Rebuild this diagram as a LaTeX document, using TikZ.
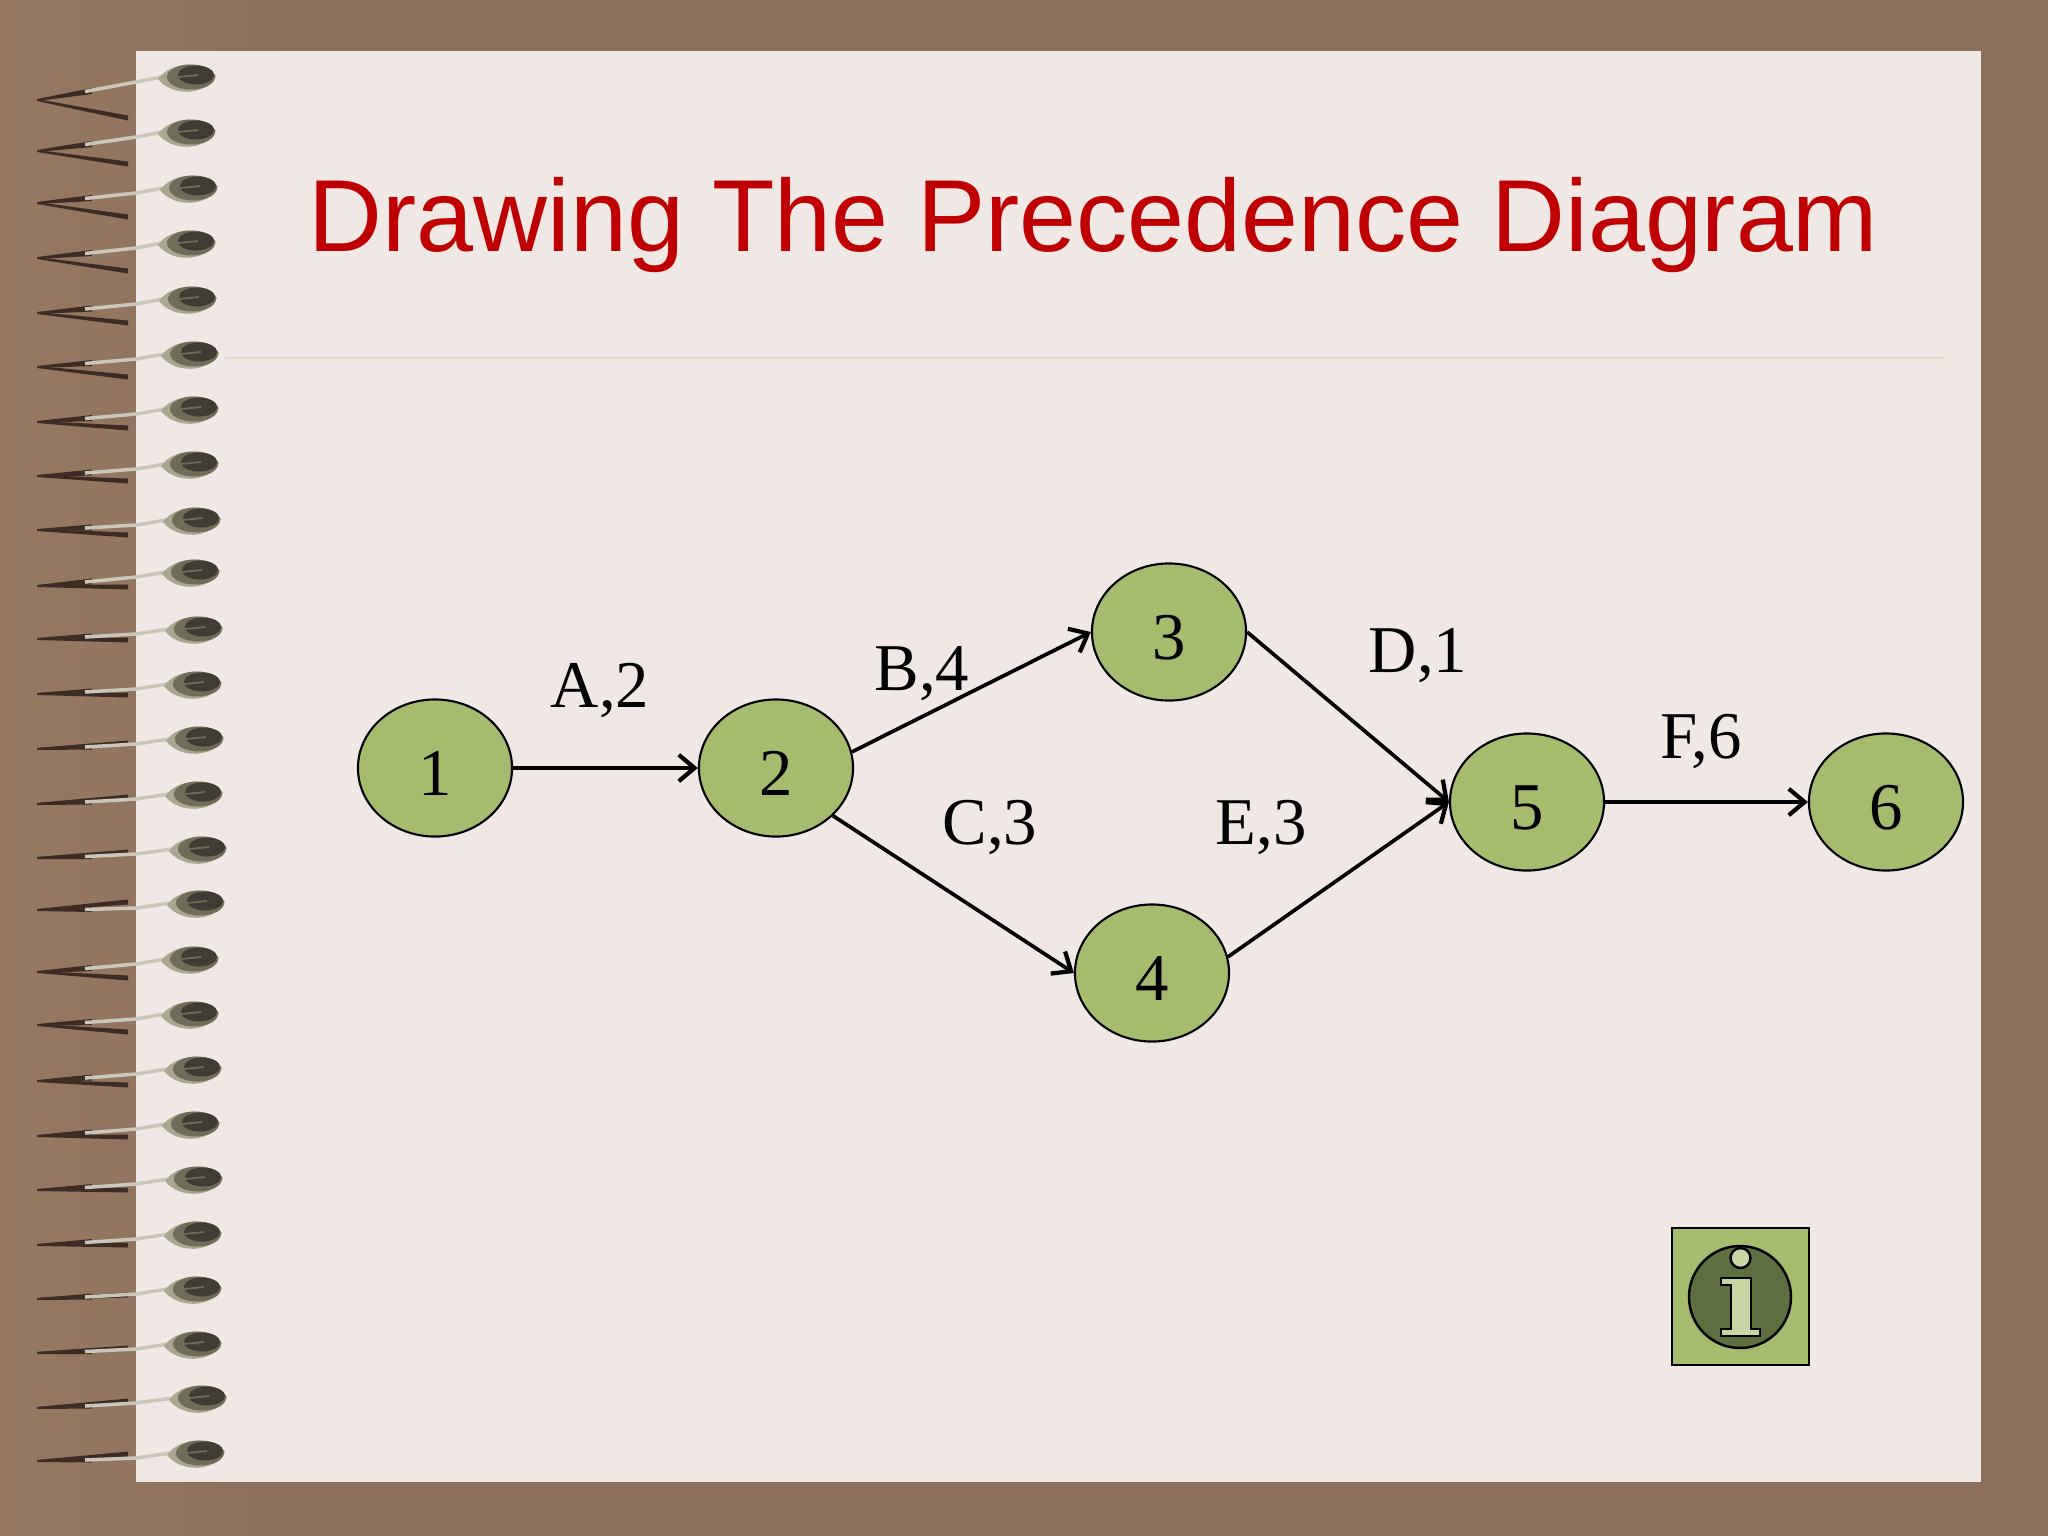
\documentclass[tikz,border=0pt]{standalone}
\usepackage{fontspec}
\setmainfont{Liberation Serif}
\newfontfamily\titlefont{Liberation Sans}
\usetikzlibrary{arrows.meta,shapes.geometric}
\definecolor{cover}{HTML}{8E6F5C}
\definecolor{coverleft}{HTML}{97785F}
\definecolor{paper}{HTML}{EFE8E4}
\definecolor{rulecol}{HTML}{DCDEC8}
\definecolor{nodegreen}{HTML}{A5BC6E}
\definecolor{icondark}{HTML}{5F7040}
\definecolor{iconlight}{HTML}{C6D6A4}
\definecolor{titlered}{HTML}{C00000}
\definecolor{wiredark}{HTML}{3E2C24}
\definecolor{wirelight}{HTML}{C9C6BA}
\definecolor{ballpale}{HTML}{A9A78F}
\definecolor{ballmid}{HTML}{6F6D58}
\definecolor{balldark}{HTML}{3F3C34}
\tikzset{
  event/.style={draw=black,line width=0.6pt,fill=nodegreen,ellipse,inner sep=0pt,
    minimum width=1.54cm,minimum height=1.37cm,text height=15.7pt,text depth=0pt,font=\fontsize{19}{19}\selectfont},
  activity/.style={anchor=base,inner sep=0pt,font=\fontsize{19}{19}\selectfont},
  link/.style={draw=black,line width=1.05pt,-{Straight Barb[length=4.5pt,width=7.5pt,line width=1.2pt]}},
  iconline/.style={draw=black,line width=0.7pt}
}
\begin{document}
\begin{tikzpicture}[x=0.01cm,y=-0.01cm]
\useasboundingbox (0,0) rectangle (2048,1536);

% cover and page
\fill[cover] (0,0) rectangle (2048,1536);
\fill[left color=coverleft,right color=cover] (0,0) rectangle (300,1536);
\fill[paper] (136,51) rectangle (1981,1482);
\draw[rulecol,line width=0.4pt] (225,358) -- (1945,358);

% spiral binding
\foreach \xb/\yb/\ty/\ry in {188/78/22/40,188/133/18/31,190/189/14/28,188/244/14/27,189/300/13/23,
  191/355/12/22,191/410/12/18,191/465/11/16,193/521/9/14,192/573/13/14,195/630/9/10,194/685/9/10,
  196/740/9/3,195/795/9/2,199/850/8/2,197/904/6/-2,191/960/12/18,191/1015/10/17,194/1070/11/15,
  192/1125/11/12,195/1180/10/10,194/1235/10/10,194/1290/9/5,194/1345/8/3,199/1399/9/2,197/1454/7/0}{
  \fill[wiredark] (37,\yb+\ty-1) -- (128,\yb+\ry-2.5) -- (128,\yb+\ry+2.5) -- (37,\yb+\ty+1) -- cycle;
  \fill[wiredark] (37,\yb+\ty-1) -- (92,\yb+0.5*\ty+2-3) -- (92,\yb+0.5*\ty+2+3) -- (37,\yb+\ty+1) -- cycle;
  \draw[wirelight,line width=1pt] (85,\yb+0.5*\ty+2.5) -- (136,\yb+4) -- (\xb-26,\yb-1);
  \begin{scope}[shift={(\xb,\yb)}]
    \fill[ballpale] (-30,1) .. controls (-18,-16) and (14,-19) .. (28,-2) .. controls (18,18) and (-16,19) .. (-30,1) -- cycle;
    \fill[ballmid] (3,-1) ellipse [x radius=24,y radius=12.5];
    \fill[balldark] (8,-3) ellipse [x radius=18,y radius=9.5];
    \draw[ballmid,line width=0.5pt] (-20,0) -- (10,-3);
  \end{scope}
}

\node[anchor=base west,inner sep=0pt,text=titlered,font=\titlefont\fontsize{29.1}{29.1}\selectfont] (title) at (308,251) {Drawing The Precedence Diagram};

% network
\node[event] (n1) at (435,768) {1};
\node[event] (n2) at (776,768) {2};
\node[event] (n3) at (1169,632) {3};
\node[event] (n4) at (1152,973) {4};
\node[event] (n5) at (1527,802) {5};
\node[event] (n6) at (1886,802) {6};

\draw[link] (n1) -- (n2);
\draw[link] (n2.12) -- (n3.west);
\draw[link] (n2.-40) -- (n4.west);
\draw[link] (n3.east) -- (n5.west);
\draw[link] (n4.12) -- (n5.west);
\draw[link] (n5) -- (n6);

\node[activity] (la) at (600,707) {A,2};
\node[activity] (lb) at (922,690) {B,4};
\node[activity] (lc) at (990,844) {C,3};
\node[activity] (ld) at (1418,672) {D,1};
\node[activity] (le) at (1261,844) {E,3};
\node[activity] (lf) at (1701,758) {F,6};

% info button
\draw[iconline,fill=nodegreen] (1672,1228) rectangle (1809,1365);
\draw[iconline,fill=icondark] (1740,1297) circle [radius=51];
\draw[iconline,fill=iconlight] (1740.5,1258) circle [radius=10];
\draw[iconline,fill=iconlight] (1721,1278) -- (1751,1278) -- (1751,1329) -- (1760,1329) -- (1760,1336)
  -- (1721,1336) -- (1721,1329) -- (1731,1329) -- (1731,1285) -- (1721,1285) -- cycle;
\end{tikzpicture}
\end{document}
